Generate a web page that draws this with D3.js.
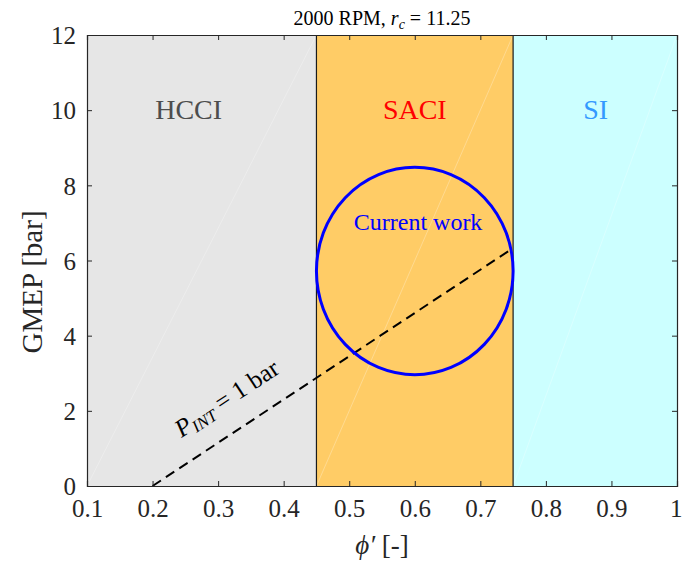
<!DOCTYPE html>
<html>
<head>
<meta charset="utf-8">
<script src="https://cdn.jsdelivr.net/npm/d3@7"></script>
<style>
    body { margin: 0; background: #fff; }
    svg text { font-family: "Liberation Serif", "DejaVu Serif", serif; }
</style>
</head>
<body>
<div id="chart"></div>
<script>
// regimes along phi'
var regimeNames = ["HCCI", "SACI", "SI"],
    regimeFrom = [0.1, 0.45, 0.75],
    regimeTo = [0.45, 0.75, 1.0],
    regimeLabelX = [0.255, 0.6, 0.876],
    regimeLabelY = [9.76, 9.76, 9.76];

// P_INT = 1 bar line
var pintPhi = [0.2, 0.75],
    pintGmep = [0, 6.33];

// "Current work" ellipse
var workCenter = [0.6, 5.72],
    workRadius = [0.15, 2.76],
    workLabel = [0.605, 6.8];

var xTicks = [0.1, 0.2, 0.3, 0.4, 0.5, 0.6, 0.7, 0.8, 0.9, 1],
    yTicks = [0, 2, 4, 6, 8, 10, 12];

var fills = {HCCI: "#e6e6e6", SACI: "#ffcc66", SI: "#ccffff"},
    labelColors = {HCCI: "#4d4d4d", SACI: "#ff0000", SI: "#3399ff"};

var margin = {top: 35, right: 5, bottom: 78, left: 87},
    W = 682, H = 564,
    width = W - margin.left - margin.right,
    height = H - margin.top - margin.bottom;

var svg = d3.select("#chart").append("svg")
    .attr("width", W)
    .attr("height", H);

var g = svg.append("g")
    .attr("transform", "translate(" + margin.left + "," + margin.top + ")");

var x = d3.scaleLinear().domain([0.1, 1]).range([0, width]);
var y = d3.scaleLinear().domain([0, 12]).range([height, 0]);

// shaded regimes
g.selectAll("rect.regime")
    .data(regimeNames)
    .enter()
    .append("rect")
    .attr("class", "regime")
    .attr("x", function (d, i) { return x(regimeFrom[i]); })
    .attr("y", y(12))
    .attr("width", function (d, i) { return x(regimeTo[i]) - x(regimeFrom[i]); })
    .attr("height", y(0) - y(12))
    .attr("fill", function (d) { return fills[d]; });

// faint patch seams (rendering artefact in the original)
g.selectAll("line.seam")
    .data(regimeNames)
    .enter()
    .append("line")
    .attr("x1", function (d, i) { return x(regimeFrom[i]); })
    .attr("y1", y(0))
    .attr("x2", function (d, i) { return x(regimeTo[i]); })
    .attr("y2", y(12))
    .attr("stroke", "#fff")
    .attr("stroke-opacity", 0.35)
    .attr("stroke-width", 0.8);

// regime borders
g.selectAll("line.border")
    .data([0.45, 0.75])
    .enter()
    .append("line")
    .attr("x1", function (d) { return x(d); })
    .attr("x2", function (d) { return x(d); })
    .attr("y1", y(0))
    .attr("y2", y(12))
    .attr("stroke", "#1a1a1a")
    .attr("stroke-width", 1.2);

// regime labels
g.selectAll("text.regime")
    .data(regimeNames)
    .enter()
    .append("text")
    .attr("x", function (d, i) { return x(regimeLabelX[i]); })
    .attr("y", function (d, i) { return y(regimeLabelY[i]); })
    .attr("text-anchor", "middle")
    .attr("font-size", 28)
    .attr("fill", function (d) { return labelColors[d]; })
    .text(function (d) { return d; });

// P_INT line
var line = d3.line()
    .x(function (d) { return x(d[0]); })
    .y(function (d) { return y(d[1]); });

g.append("path")
    .datum(d3.zip(pintPhi, pintGmep))
    .attr("d", line)
    .attr("fill", "none")
    .attr("stroke", "#000")
    .attr("stroke-width", 2)
    .attr("stroke-dasharray", "10,6");

var ang = Math.atan2(y(pintGmep[0]) - y(pintGmep[1]), x(pintPhi[1]) - x(pintPhi[0])) * 180 / Math.PI;
var lx = x(0.32), ly = y(2.15);
var pint = g.append("text")
    .attr("transform", "translate(" + lx + "," + ly + ") rotate(" + (-ang) + ")")
    .attr("text-anchor", "middle")
    .attr("font-size", 25)
    .attr("fill", "#000");
pint.append("tspan").attr("font-style", "italic").text("P");
pint.append("tspan").attr("font-style", "italic").attr("font-size", 17).attr("dy", 4).text("INT");
pint.append("tspan").attr("dy", -4).text(" = 1 bar");

// current work ellipse
g.append("ellipse")
    .attr("cx", x(workCenter[0]))
    .attr("cy", y(workCenter[1]))
    .attr("rx", x(workCenter[0] + workRadius[0]) - x(workCenter[0]))
    .attr("ry", y(workCenter[1] - workRadius[1]) - y(workCenter[1]))
    .attr("fill", "none")
    .attr("stroke", "#0000ff")
    .attr("stroke-width", 3);

g.append("text")
    .attr("x", x(workLabel[0]))
    .attr("y", y(workLabel[1]))
    .attr("text-anchor", "middle")
    .attr("font-size", 24)
    .attr("fill", "#0000ff")
    .text("Current work");

// axes (inward ticks, box)
var xAxis = g.append("g")
    .attr("transform", "translate(0," + height + ")")
    .call(d3.axisBottom(x).tickValues(xTicks).tickSize(-5).tickPadding(13)
        .tickFormat(function (d) { return d === 1 ? "1" : d3.format(".1f")(d); }));
var yAxis = g.append("g")
    .call(d3.axisLeft(y).tickValues(yTicks).tickSize(-5).tickPadding(11));
g.append("g")
    .call(d3.axisTop(x).tickValues(xTicks).tickSize(-5).tickFormat(""));
g.append("g")
    .attr("transform", "translate(" + width + ",0)")
    .call(d3.axisRight(y).tickValues(yTicks).tickSize(-5).tickFormat(""));

g.selectAll(".domain").attr("stroke", "#262626").attr("stroke-width", 1.2);
g.selectAll(".tick line").attr("stroke", "#262626");
[xAxis, yAxis].forEach(function (a) {
    a.selectAll("text")
        .attr("font-family", "'Liberation Serif', serif")
        .attr("font-size", 25)
        .attr("fill", "#262626");
});
yAxis.selectAll("text").attr("dy", "0.35em");
// keep the last label inside the page
xAxis.selectAll(".tick text").filter(function (d) { return d === 1; })
    .attr("text-anchor", "end").attr("dx", 5);

// titles
var title = svg.append("text")
    .attr("x", margin.left + width / 2)
    .attr("y", 25)
    .attr("text-anchor", "middle")
    .attr("font-size", 20)
    .attr("fill", "#000");
title.append("tspan").text("2000 RPM, ");
title.append("tspan").attr("font-style", "italic").text("r");
title.append("tspan").attr("font-style", "italic").attr("font-size", 14).attr("dy", 4).text("c");
title.append("tspan").attr("dy", -4).text(" = 11.25");

var xl = svg.append("text")
    .attr("x", margin.left + width / 2)
    .attr("y", 554)
    .attr("text-anchor", "middle")
    .attr("font-size", 27)
    .attr("fill", "#262626");
xl.append("tspan").attr("font-style", "italic").text("\u03d5\u2032");
xl.append("tspan").text("  [-]");

svg.append("text")
    .attr("transform", "translate(42,282) rotate(-90)")
    .attr("text-anchor", "middle")
    .attr("font-size", 29)
    .attr("fill", "#262626")
    .text("GMEP [bar]");
</script>
</body>
</html>
